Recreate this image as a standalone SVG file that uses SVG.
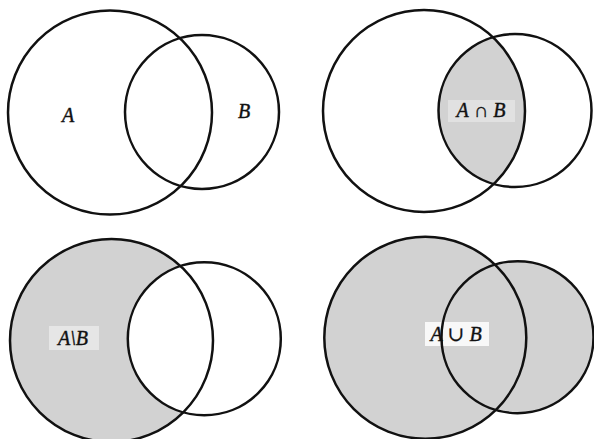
<svg xmlns="http://www.w3.org/2000/svg" width="594" height="439" viewBox="0 0 594 439">
<style>
.c{fill:none;stroke:#111;stroke-width:2.5}
.s{fill:#d2d2d2}
.t{font-family:"Liberation Serif","DejaVu Serif",serif;font-style:italic;font-size:20px;fill:#111;stroke:#111;stroke-width:0.4}
.u{font-family:"Liberation Serif","DejaVu Serif",serif;font-style:normal;font-size:20px;fill:#111;stroke:#111;stroke-width:0.3}
</style>
<defs>
<clipPath id="clipA2"><circle cx="424" cy="111" r="101"/></clipPath>
<mask id="maskB3"><rect width="594" height="439" fill="#fff"/><circle cx="204.3" cy="338.8" r="76.5" fill="#000"/></mask>
</defs>
<rect width="594" height="439" fill="#fff"/>
<g id="panel-A-B">
<circle class="c" cx="110" cy="112.5" r="102"/>
<circle class="c" cx="202" cy="112" r="77"/>
<text class="t" x="68" y="121.5" text-anchor="middle">A</text>
<text class="t" x="244" y="118" text-anchor="middle">B</text>
</g>
<g id="panel-intersection">
<circle class="s" cx="515" cy="110.5" r="76.5" clip-path="url(#clipA2)"/>
<rect x="448" y="100" width="67" height="22" fill="#fff" opacity="0.35"/>
<circle class="c" cx="424" cy="111" r="101"/>
<circle class="c" cx="515" cy="110.5" r="76.5"/>
<text x="481" y="117" text-anchor="middle"><tspan class="t">A</tspan><tspan class="u"> ∩ </tspan><tspan class="t">B</tspan></text>
</g>
<g id="panel-difference">
<circle class="s" cx="111.5" cy="340.5" r="101.5" mask="url(#maskB3)"/>
<rect x="49" y="326" width="50" height="24" fill="#fff" opacity="0.45"/>
<circle class="c" cx="111.5" cy="340.5" r="101.5"/>
<circle class="c" cx="204.3" cy="338.8" r="76.5"/>
<text class="t" x="73" y="345" text-anchor="middle">A\B</text>
</g>
<g id="panel-union">
<circle class="s" cx="425.3" cy="337.7" r="101"/>
<circle class="s" cx="517.5" cy="337.2" r="76"/>
<rect x="425" y="322" width="64" height="24" fill="#fff" opacity="0.85"/>
<circle class="c" cx="425.3" cy="337.7" r="101"/>
<circle class="c" cx="517.5" cy="337.2" r="76"/>
<text x="456" y="341" text-anchor="middle"><tspan class="t">A</tspan><tspan class="u"> ∪ </tspan><tspan class="t">B</tspan></text>
</g>
</svg>
